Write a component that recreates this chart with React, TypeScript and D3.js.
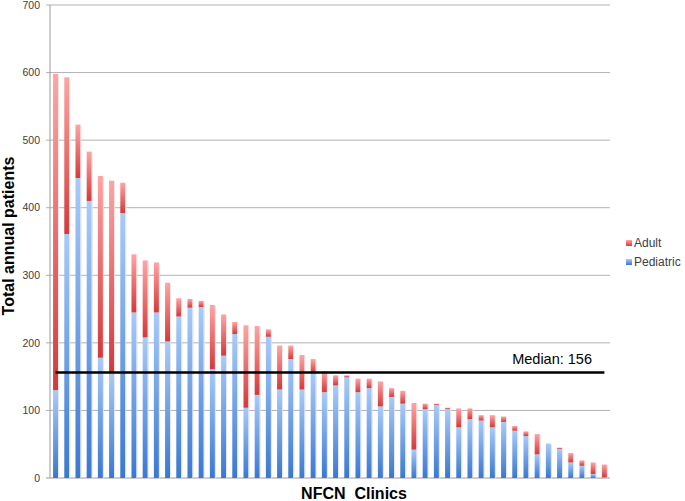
import React from "react";
import * as d3 from "d3";

const clinics = d3.range(1, 51).map((i) => `Clinic ${i}`);
const pediatric = [130, 361, 444, 410, 178, 157, 392, 245, 208, 245, 202, 239, 252, 253, 161, 181, 213, 104, 123, 209, 131, 176, 131, 155, 127, 137, 149, 127, 133, 106, 120, 110, 42, 102, 108, 102, 75, 87, 85, 75, 83, 70, 62, 35, 51, 43, 23, 18, 6, 1];
const adult = [468, 232, 79, 73, 269, 283, 45, 86, 114, 74, 87, 27, 13, 9, 95, 61, 18, 122, 102, 11, 65, 20, 51, 21, 31, 15, 3, 20, 14, 37, 13, 19, 69, 8, 2, 2, 28, 16, 8, 18, 8, 7, 7, 30, 0, 2, 14, 8, 17, 19];
const yTicks = [0, 100, 200, 300, 400, 500, 600, 700];
const medianValue = 156;

const W = 685;
const H = 501;
const M = { left: 50, right: 75, top: 5, bottom: 23 };

export default function App() {
  const x = d3
    .scaleBand<string>()
    .domain(clinics)
    .range([M.left, W - M.right])
    .paddingInner(0.55)
    .paddingOuter(0.275);
  const y = d3.scaleLinear().domain([0, 700]).range([H - M.bottom, M.top]);
  const font = "'Liberation Sans', Arial, sans-serif";
  const first = x(clinics[0])! + x.bandwidth() / 2;
  const last = x(clinics[clinics.length - 1])! + x.bandwidth() / 2;

  return (
    <svg
      width={W}
      height={H}
      style={{ position: "absolute", left: 0, top: 0, background: "#fff" }}
      fontFamily={font}
    >
      <defs>
        <linearGradient id="gBlue" x1="0" y1="0" x2="0" y2="1">
          <stop offset="0" stopColor="#a8cbfa" />
          <stop offset="1" stopColor="#3978d2" />
        </linearGradient>
        <linearGradient id="gRed" x1="0" y1="0" x2="0" y2="1">
          <stop offset="0" stopColor="#ffa4a4" />
          <stop offset="1" stopColor="#d4393a" />
        </linearGradient>
      </defs>
      {yTicks.map((t) => (
        <g key={t}>
          <line
            x1={M.left - 4}
            x2={W - M.right}
            y1={y(t)}
            y2={y(t)}
            stroke={t === 0 ? "#9a9a9a" : "#b3b3b3"}
            strokeWidth={1}
          />
          <text
            x={M.left - 10}
            y={y(t)}
            dy="0.35em"
            textAnchor="end"
            fontSize={10.5}
            fill="#404040"
          >
            {t}
          </text>
        </g>
      ))}
      <line x1={M.left} x2={M.left} y1={y(700)} y2={y(0)} stroke="#9a9a9a" />
      {clinics.map((c, i) => {
        const bx = x(c)!;
        const bw = x.bandwidth();
        const p = pediatric[i];
        const a = adult[i];
        return (
          <g key={c}>
            {p > 0 && (
              <rect x={bx} y={y(p)} width={bw} height={y(0) - y(p)} fill="url(#gBlue)" />
            )}
            {a > 0 && (
              <rect x={bx} y={y(p + a)} width={bw} height={y(p) - y(p + a)} fill="url(#gRed)" />
            )}
            <line
              x1={bx + bw + 0.5}
              x2={bx + bw + 0.5}
              y1={y(p + a) + 1}
              y2={y(0)}
              stroke="#e4e4e4"
              strokeWidth={1}
            />
          </g>
        );
      })}
      <line
        x1={first}
        x2={last}
        y1={y(medianValue)}
        y2={y(medianValue)}
        stroke="#000"
        strokeWidth={2.5}
      />
      <text x={592} y={364} textAnchor="end" fontSize={14.5} fill="#000">
        {`Median: ${medianValue}`}
      </text>
      <g>
        <rect x={626} y={240} width={6} height={6} fill="url(#gRed)" />
        <text x={634} y={243} dy="0.35em" fontSize={12} fill="#404040">
          Adult
        </text>
        <rect x={626} y={259} width={6} height={6} fill="url(#gBlue)" />
        <text x={634} y={262} dy="0.35em" fontSize={12} fill="#404040">
          Pediatric
        </text>
      </g>
      <text
        transform={`translate(14,${236}) rotate(-90)`}
        textAnchor="middle"
        fontSize={16}
        fontWeight="bold"
        fill="#000"
      >
        Total annual patients
      </text>
      <text x={354} y={499} textAnchor="middle" fontSize={16} fontWeight="bold" fill="#000">
        {"NFCN\u00A0 Clinics"}
      </text>
    </svg>
  );
}
